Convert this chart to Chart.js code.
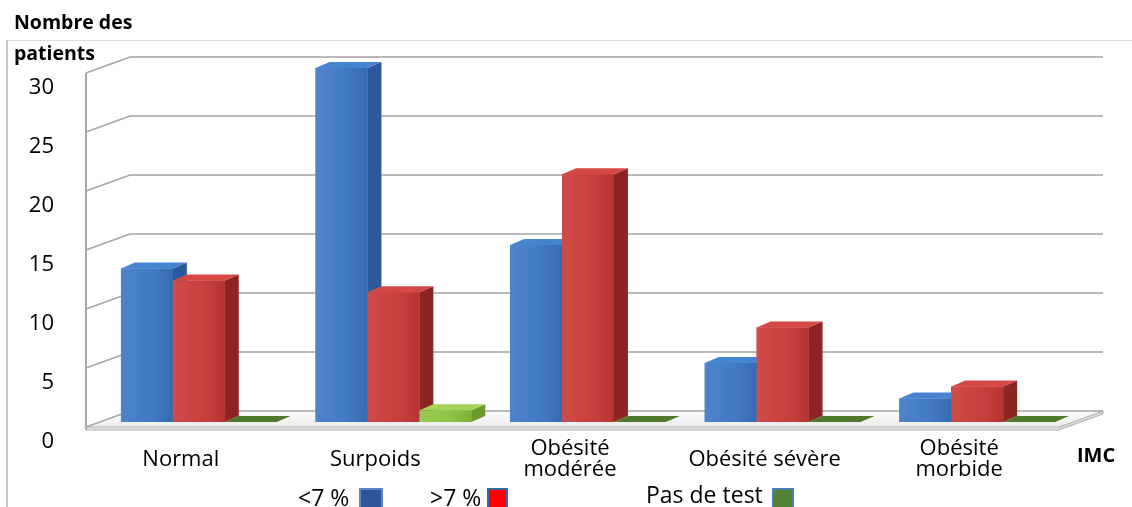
<!DOCTYPE html>
<html lang="fr">
<head>
<meta charset="utf-8">
<title>Nombre des patients par IMC</title>
<script src="https://cdn.jsdelivr.net/npm/chart.js@4.4.1/dist/chart.umd.min.js"></script>
<style>
  html, body { margin: 0; padding: 0; background: #fff; }
  #wrap { position: relative; width: 1132px; height: 507px; overflow: hidden; }
</style>
</head>
<body>
<div id="wrap"><canvas id="imcChart" width="1132" height="507"></canvas></div>
<script>
// IMC categories and patient counts per HbA1c group
const categories = ['Normal', 'Surpoids', ['Obésité', 'modérée'], 'Obésité sévère', ['Obésité', 'morbide']];
const seriesNames = ['<7 %', '>7 %', 'Pas de test'];
const below7 = [13, 30, 15, 5, 2];
const above7 = [12, 11, 21, 8, 3];
const noTest = [0, 1, 0, 0, 0];
const yTicks = [0, 5, 10, 15, 20, 25, 30];

const FONT = "'Open Sans', 'Noto Sans', sans-serif";

// 3D look: bar depth and offsets of the front/back walls from the bar plane
const BAR_DX = 14, BAR_DY = -6;
const FRONT = { dx: -15.5, dy: 5 };
const BACK = { dx: 28.5, dy: -11 };

const faces = [
    { side: '#2a5a9c', top: '#4784d0', flat: '#4784d0' },
    { side: '#8c2424', top: '#d64845', flat: '#d64845' },
    { side: '#6a9a2c', top: '#a3d458', flat: '#4f7a2b' }
];

const legendBoxes = [
    { fill: '#2f5597', stroke: '#5b87c6' },
    { fill: '#ff0000', stroke: '#3d68a6' },
    { fill: '#548235', stroke: '#4a7ebb' }
];

function poly(ctx, pts, fill) {
    ctx.beginPath();
    ctx.moveTo(pts[0][0], pts[0][1]);
    for (let i = 1; i < pts.length; i++) ctx.lineTo(pts[i][0], pts[i][1]);
    ctx.closePath();
    ctx.fillStyle = fill;
    ctx.fill();
}

// floor, side wall and back wall grid lines
const room3d = {
    id: 'room3d',
    beforeDatasetsDraw(chart) {
        const { ctx, chartArea: a, scales: { y } } = chart;
        const fx0 = a.left + FRONT.dx, fx1 = a.right + FRONT.dx;
        const bx0 = a.left + BACK.dx, bx1 = a.right + BACK.dx;
        const yf = v => y.getPixelForValue(v) + FRONT.dy;
        const yb = v => y.getPixelForValue(v) + BACK.dy;
        const zf = yf(0), zb = yb(0);

        ctx.save();
        // floor slab
        const fg = ctx.createLinearGradient(0, zb, 0, zf);
        fg.addColorStop(0, '#fbfbfb');
        fg.addColorStop(1, '#ececec');
        poly(ctx, [[fx0, zf], [fx1, zf], [bx1, zb], [bx0, zb]], fg);
        poly(ctx, [[fx0, zf], [fx1, zf], [fx1, zf + 3], [fx0, zf + 3]], '#e2e2e2');
        poly(ctx, [[fx1, zf], [bx1, zb], [bx1, zb + 3], [fx1, zf + 3]], '#d6d6d6');
        ctx.strokeStyle = '#b3b3b3';
        ctx.lineWidth = 1;
        ctx.beginPath();
        ctx.moveTo(fx0, zf); ctx.lineTo(fx1, zf); ctx.lineTo(bx1, zb);
        ctx.moveTo(fx0, zf + 3); ctx.lineTo(fx1, zf + 3); ctx.lineTo(bx1, zb + 3); ctx.lineTo(bx1, zb);
        ctx.stroke();

        // grid lines: diagonal on the side wall, then across the back wall
        ctx.strokeStyle = '#a4a4a4';
        ctx.lineWidth = 1.4;
        ctx.beginPath();
        y.ticks.forEach(t => {
            ctx.moveTo(fx0, yf(t.value));
            ctx.lineTo(bx0, yb(t.value));
            ctx.lineTo(bx1, yb(t.value));
        });
        ctx.stroke();

        // front edge of the side wall
        ctx.lineWidth = 2;
        ctx.strokeStyle = '#a8a8a8';
        ctx.beginPath();
        ctx.moveTo(fx0, yf(y.max));
        ctx.lineTo(fx0, zf + 3);
        ctx.stroke();
        ctx.restore();
    },
    afterDatasetsDraw(chart) {
        const { ctx } = chart;
        const metas = chart.data.datasets.map((d, i) => chart.getDatasetMeta(i));
        ctx.save();
        // paint each group left to right so side faces hide behind the next bar
        categories.forEach((c, j) => {
            metas.forEach((meta, i) => {
                const el = meta.data[j];
                const value = chart.data.datasets[i].data[j];
                const { x, y, base, width } = el.getProps(['x', 'y', 'base', 'width'], true);
                const l = x - width / 2, r = x + width / 2;
                const f = faces[i];
                if (value > 0) {
                    el.draw(ctx);
                    const g = ctx.createLinearGradient(l, 0, r, 0);
                    g.addColorStop(0, 'rgba(255,255,255,0.10)');
                    g.addColorStop(0.4, 'rgba(255,255,255,0.05)');
                    g.addColorStop(1, 'rgba(0,0,0,0.10)');
                    ctx.fillStyle = g;
                    ctx.fillRect(l, y, width, base - y);
                    poly(ctx, [[r, y], [r + BAR_DX, y + BAR_DY], [r + BAR_DX, base + BAR_DY], [r, base]], f.side);
                    poly(ctx, [[l, y], [l + BAR_DX, y + BAR_DY], [r + BAR_DX, y + BAR_DY], [r, y]], f.top);
                } else {
                    poly(ctx, [[l, base], [l + BAR_DX, base + BAR_DY], [r + BAR_DX, base + BAR_DY], [r, base]], f.flat);
                }
            });
        });
        ctx.restore();
    }
};

// axis titles, outer frame and the legend row
const captions = {
    id: 'captions',
    afterDraw(chart) {
        const { ctx } = chart;
        ctx.save();
        ctx.strokeStyle = '#dcdcdc';
        ctx.lineWidth = 1;
        ctx.beginPath();
        ctx.moveTo(7, 40.5); ctx.lineTo(1132, 40.5);
        ctx.stroke();
        ctx.strokeStyle = '#b4b4b4';
        ctx.lineWidth = 1.5;
        ctx.beginPath();
        ctx.moveTo(7, 40); ctx.lineTo(7, 507);
        ctx.stroke();

        ctx.fillStyle = '#000';
        ctx.textBaseline = 'alphabetic';
        ctx.textAlign = 'left';
        ctx.font = 'bold 19.5px ' + FONT;
        ctx.fillText('Nombre des', 14, 29);
        ctx.fillText('patients', 14, 60);
        ctx.font = 'bold 20px ' + FONT;
        ctx.fillText('IMC', 1077, 462);

        const slots = [
            { tx: 298, bx: 359, bw: 24, ty: 506 },
            { tx: 430, bx: 487, bw: 21, ty: 506 },
            { tx: 646, bx: 772, bw: 22, ty: 503 }
        ];
        ctx.font = '23px ' + FONT;
        chart.data.datasets.forEach((ds, i) => {
            const s = slots[i];
            ctx.fillStyle = '#000';
            ctx.fillText(ds.label, s.tx, s.ty);
            ctx.fillStyle = legendBoxes[i].fill;
            ctx.fillRect(s.bx, 488, s.bw, 22);
            ctx.strokeStyle = legendBoxes[i].stroke;
            ctx.lineWidth = 2;
            ctx.strokeRect(s.bx + 1, 489, s.bw - 2, 22);
        });
        ctx.restore();
    }
};

new Chart(document.getElementById('imcChart'), {
    type: 'bar',
    data: {
        labels: categories,
        datasets: [
            { label: seriesNames[0], data: below7, backgroundColor: '#3a76c4' },
            { label: seriesNames[1], data: above7, backgroundColor: '#c93836' },
            { label: seriesNames[2], data: noTest, backgroundColor: '#8cc43f' }
        ]
    },
    options: {
        responsive: false,
        animation: false,
        layout: { padding: { left: 0, right: 57.5, top: 68, bottom: 0 } },
        datasets: {
            bar: { categoryPercentage: 0.8, barPercentage: 1, borderWidth: 0 }
        },
        plugins: {
            legend: { display: false },
            tooltip: { enabled: false }
        },
        scales: {
            x: {
                grid: { display: false, drawTicks: false },
                border: { display: false },
                afterFit: scale => { scale.height = 85; },
                ticks: {
                    color: '#000',
                    font: { family: FONT, size: 22, lineHeight: 0.96 },
                    padding: 27,
                    labelOffset: -18,
                    crossAlign: 'center',
                    maxRotation: 0,
                    autoSkip: false
                }
            },
            y: {
                min: yTicks[0],
                max: yTicks[yTicks.length - 1],
                grid: { display: false, drawTicks: false },
                border: { display: false },
                afterFit: scale => { scale.width = 101.5; },
                ticks: {
                    stepSize: yTicks[1] - yTicks[0],
                    color: '#000',
                    font: { family: FONT, size: 22 },
                    padding: 47.5,
                    labelOffset: 20
                }
            }
        }
    },
    plugins: [room3d, captions]
});
</script>
</body>
</html>
